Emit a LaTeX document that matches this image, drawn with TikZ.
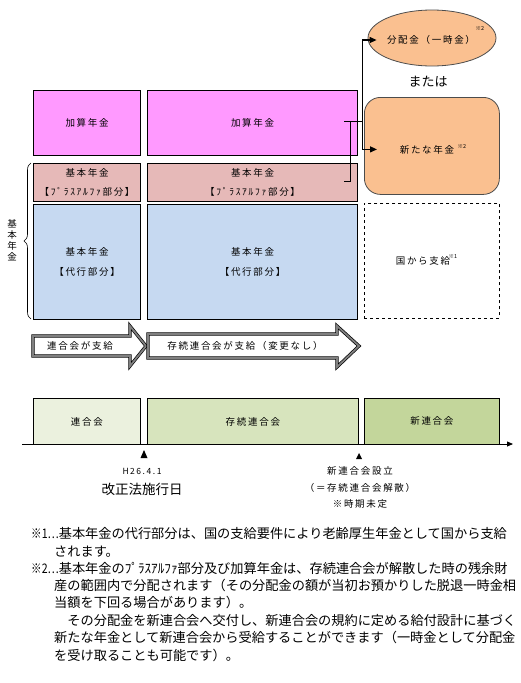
\documentclass[tikz,border=0pt]{standalone}
\usepackage{fontspec}
\setmainfont{Noto Sans CJK JP}
\newfontfamily\lab[LetterSpace=18]{Noto Sans CJK JP}
\usetikzlibrary{arrows.meta,calc,decorations.pathreplacing,shapes.geometric}
\definecolor{kasan}{HTML}{FF99FF}
\definecolor{plusc}{HTML}{E6B9B8}
\definecolor{daic}{HTML}{C6D9F1}
\definecolor{orng}{HTML}{FAC090}
\definecolor{tA}{HTML}{EBF1DE}
\definecolor{tB}{HTML}{D7E4BD}
\definecolor{tC}{HTML}{C3D69B}
\newcommand{\notepre}[1]{\scalebox{0.8}[1]{#1}}
\tikzset{
  lbl/.style={font=\lab\fontsize{9.5}{19.5}\selectfont, align=center, inner sep=0pt},
  pbox/.style={lbl, draw=black, line width=1.2pt, minimum height=#1, anchor=north west},
  tbox/.style={lbl, draw=black, line width=0.8pt, minimum height=46pt, anchor=north west},
  conn/.style={draw=black, line width=1.2pt},
  arr/.style={conn, -{Triangle[length=7pt,width=6pt]}},
  blockarrow/.style={draw=black, double=gray, double distance=1.8pt, line width=0.7pt, fill=white, line join=miter},
  note/.style={font=\fontsize{13.2}{15}\selectfont, anchor=base west, inner sep=0pt},
  sup/.style={font=\fontsize{5.5}{6}\selectfont, inner sep=0pt}
}
\begin{document}
\begin{tikzpicture}[x=1pt,y=-1pt]
\useasboundingbox (0,0) rectangle (520,683);

% upper boxes
\node[pbox=65pt, fill=kasan, minimum width=107pt] (kasan1) at (33,90) {加算年金};
\node[pbox=65pt, fill=kasan, minimum width=210pt] (kasan2) at (147,90) {加算年金};
\node[pbox=38pt, fill=plusc, minimum width=107pt] (plus1) at (33,163) {基本年金\\【ﾌﾟﾗｽｱﾙﾌｧ部分】};
\node[pbox=38pt, fill=plusc, minimum width=210pt] (plus2) at (147,163) {基本年金\\【ﾌﾟﾗｽｱﾙﾌｧ部分】};
\node[pbox=115pt, fill=daic, minimum width=107pt] (dai1) at (33,204) {基本年金\\【代行部分】};
\node[pbox=115pt, fill=daic, minimum width=210pt] (dai2) at (147,204) {基本年金\\【代行部分】};

% right side
\node[lbl, draw=black, dashed, line width=0.8pt, minimum width=135pt, minimum height=115pt, anchor=north west] (kuni) at (364,203) {};
\node[lbl] (kunitxt) at (423,261) {国から支給};
\node[sup] (kunisup) at (453,256) {※1};

\node[draw=black!70, line width=0.8pt, fill=orng, rounded corners=16pt, minimum width=135pt, minimum height=97pt, anchor=north west, inner sep=0pt] (shin) at (364,97) {};
\node[lbl] (shintxt) at (427,150) {新たな年金};
\node[sup] (shinsup) at (462,146) {※2};

\node[ellipse, draw=black!70, line width=0.8pt, fill=orng, minimum width=128pt, minimum height=56pt, inner sep=0pt] (ell) at (432,38) {};
\node[lbl] (elltxt) at (431,40) {分配金（一時金）};
\node[sup] (ellsup) at (480,28) {※2};

\node[font=\fontsize{13}{15}\selectfont, inner sep=0pt] (matawa) at (428,82) {または};

% bracket connector
\coordinate (bt) at ($(kasan2.east)+(-14,-1.5)$);
\coordinate (bj) at ($(kasan2.east)+(-8,-1.5)$);
\coordinate (sp) at ($(kasan2.east)+(4,-1.5)$);
\coordinate (bb) at ($(plus2.east)+(-14,-1)$);
\coordinate (e1) at ($(ell.west)+(9,2)$);
\coordinate (e2) at ($(shin.west)+(13,3.5)$);
\draw[conn] (bt) -- (sp);
\draw[conn] (bj) |- (bb);
\draw[arr] (sp) |- (e1);
\draw[arr] (sp) |- (e2);

% brace
\draw[line width=0.6pt, decorate, decoration={brace, amplitude=7pt}] (31,319) -- (31,163);
\node[lbl, font=\lab\fontsize{9.5}{11}\selectfont] (kihon) at (12,240) {基\\本\\年\\金};

% block arrows
\draw[blockarrow] (33,336) -- (130,336) -- (130,326) -- (146,346) -- (130,366) -- (130,356) -- (33,356) -- cycle;
\node[lbl] (a1txt) at (80,346) {連合会が支給};
\draw[blockarrow] (148,334) -- (337,334) -- (337,326) -- (359,346) -- (337,367) -- (337,358) -- (148,358) -- cycle;
\node[lbl] (a2txt) at (245,346) {存続連合会が支給（変更なし）};

% timeline
\node[tbox, fill=tA, minimum width=107pt] (t1) at (33,398) {連合会};
\node[tbox, fill=tB, minimum width=211pt] (t2) at (147,398) {存続連合会};
\node[tbox, fill=tC, minimum width=135pt] (t3) at (364,398) {新連合会};
\coordinate (ax0) at (22,444);
\coordinate (ax1) at (513,444);
\draw[line width=0.8pt, -{Triangle[length=6pt,width=5pt]}] (ax0) -- (ax1);
\fill (144,450) -- (147.5,458) -- (140.5,458) -- cycle;
\fill (359,453) -- (362,459) -- (356,459) -- cycle;

\node[lbl, font=\lab\fontsize{8.5}{10}\selectfont] (date) at (142,471) {H26.4.1};
\node[font=\fontsize{13.5}{15}\selectfont, inner sep=0pt] (kaisei) at (142,489) {改正法施行日};
\node[lbl] (setsu) at (360,471) {新連合会設立};
\node[lbl] (kaisan) at (360,488) {（＝存続連合会解散）};
\node[lbl] (miteii) at (360,504) {※時期未定};

% notes
\node[note] (n1) at (31,538) {\notepre{※1…}基本年金の代行部分は、国の支給要件により老齢厚生年金として国から支給};
\node[note] (n2) at (54,556) {されます。};
\node[note] (n3) at (31,573) {\notepre{※2…}基本年金のﾌﾟﾗｽｱﾙﾌｧ部分及び加算年金は、存続連合会が解散した時の残余財};
\node[note] (n4) at (54,590) {産の範囲内で分配されます（その分配金の額が当初お預かりした脱退一時金相};
\node[note] (n5) at (54,607) {当額を下回る場合があります）。};
\node[note] (n6) at (54,625) {　その分配金を新連合会へ交付し、新連合会の規約に定める給付設計に基づく};
\node[note] (n7) at (54,642) {新たな年金として新連合会から受給することができます（一時金として分配金};
\node[note] (n8) at (54,660) {を受け取ることも可能です）。};
\end{tikzpicture}
\end{document}
